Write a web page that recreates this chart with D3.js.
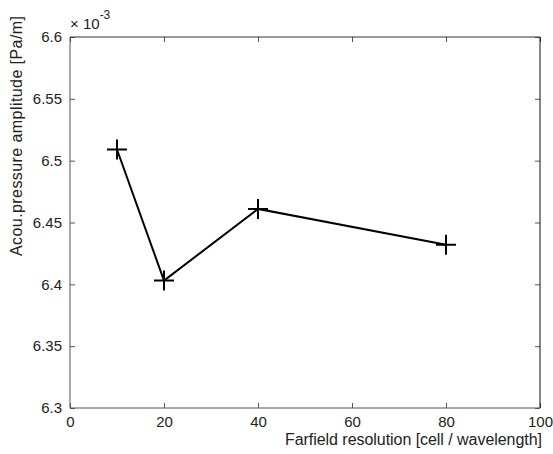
<!DOCTYPE html>
<html>
<head>
<meta charset="utf-8">
<script src="https://cdn.jsdelivr.net/npm/d3@7"></script>
<style>
  body { margin: 0; background: #fff; }
  text { font-family: Arial, "Liberation Sans", sans-serif; }
</style>
</head>
<body>
<div id="chart"></div>
<script>
// data, amplitude in units of 1e-3 Pa/m
let resolution = [10, 20, 40, 80]
let amplitude = [6.509, 6.403, 6.461, 6.432]
let xTicks = [0, 20, 40, 60, 80, 100]
let yTicks = [6.3, 6.35, 6.4, 6.45, 6.5, 6.55, 6.6]

let width = 553
let height = 454
let margin = { top: 37, right: 13, bottom: 46, left: 70 }
let innerWidth = width - margin.left - margin.right
let innerHeight = height - margin.top - margin.bottom
let textColor = '#222'

let svg = d3.select('#chart').append('svg')
  .attr('width', width)
  .attr('height', height)

let x = d3.scaleLinear().domain([0, 100]).range([0, innerWidth])
let y = d3.scaleLinear().domain([6.3, 6.6]).range([innerHeight, 0])

let g = svg.append('g')
  .attr('transform', 'translate(' + margin.left + ',' + margin.top + ')')

// box axes, MATLAB style ticks pointing inward
function styleAxis (sel) {
  sel.select('.domain').remove()
  sel.selectAll('.tick line').attr('stroke', '#555')
  sel.selectAll('.tick text')
    .style('font-size', '15px')
    .attr('fill', textColor)
}

function noLabels (sel) {
  sel.selectAll('.tick text').remove()
}

g.append('g')
  .attr('transform', 'translate(0,' + innerHeight + ')')
  .call(d3.axisBottom(x).tickValues(xTicks).tickFormat(d3.format('d')).tickSize(-5).tickPadding(8))
  .call(styleAxis)

g.append('g')
  .call(d3.axisTop(x).tickValues(xTicks).tickSize(-5))
  .call(styleAxis)
  .call(noLabels)

g.append('g')
  .call(d3.axisLeft(y).tickValues(yTicks).tickFormat(function (d) { return d3.format('.3~f')(d) }).tickSize(-5).tickPadding(8))
  .call(styleAxis)

g.append('g')
  .attr('transform', 'translate(' + innerWidth + ',0)')
  .call(d3.axisRight(y).tickValues(yTicks).tickSize(-5))
  .call(styleAxis)
  .call(noLabels)

// frame
g.append('line').attr('x1', 0).attr('x2', 0).attr('y1', 0).attr('y2', innerHeight).attr('stroke', '#555')
g.append('line').attr('x1', 0).attr('x2', innerWidth).attr('y1', innerHeight).attr('y2', innerHeight).attr('stroke', '#555')
g.append('line').attr('x1', 0).attr('x2', innerWidth).attr('y1', 0).attr('y2', 0).attr('stroke', '#333')
g.append('line').attr('x1', innerWidth).attr('x2', innerWidth).attr('y1', 0).attr('y2', innerHeight).attr('stroke', '#111')

// series
let points = resolution.map(function (r, i) { return [r, amplitude[i]] })

g.append('path')
  .datum(points)
  .attr('fill', 'none')
  .attr('stroke', '#000')
  .attr('stroke-width', 2)
  .attr('d', d3.line().x(function (d) { return x(d[0]) }).y(function (d) { return y(d[1]) }))

let mark = 10
g.selectAll('.marker')
  .data(points)
  .enter().append('path')
  .attr('class', 'marker')
  .attr('fill', 'none')
  .attr('stroke', '#000')
  .attr('stroke-width', 2)
  .attr('d', function (d) {
    let cx = x(d[0])
    let cy = y(d[1])
    return 'M' + (cx - mark) + ',' + cy + 'H' + (cx + mark) + 'M' + cx + ',' + (cy - mark) + 'V' + (cy + mark)
  })

// exponent label
let expo = svg.append('text')
  .attr('x', margin.left)
  .attr('y', 29)
  .attr('fill', textColor)
  .style('font-size', '15px')
expo.append('tspan').text('\u00d7 10')
expo.append('tspan').attr('dy', -10).style('font-size', '12px').text('-3')

// axis labels
svg.append('text')
  .attr('x', margin.left + innerWidth + 2)
  .attr('y', 445)
  .attr('text-anchor', 'end')
  .attr('fill', textColor)
  .attr('textLength', 257)
  .style('font-size', '16px')
  .text('Farfield resolution [cell / wavelength]')

svg.append('text')
  .attr('transform', 'translate(22,136) rotate(-90)')
  .attr('text-anchor', 'middle')
  .attr('fill', textColor)
  .attr('textLength', 240)
  .style('font-size', '16px')
  .text('Acou.pressure amplitude [Pa/m]')
</script>
</body>
</html>
